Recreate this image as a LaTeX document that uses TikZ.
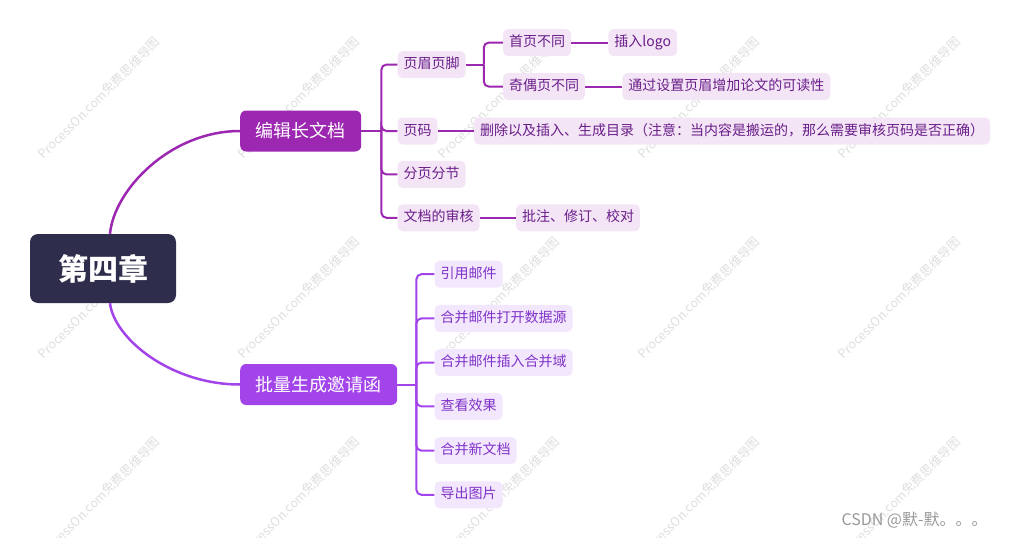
\documentclass[tikz,border=0pt]{standalone}
\usepackage{fontspec}
\setmainfont{Noto Sans CJK SC}
\usepackage{xcolor}
\usetikzlibrary{positioning}

\definecolor{rootc}{HTML}{2E2E4C}
\definecolor{editc}{HTML}{9C27B0}
\definecolor{mailc}{HTML}{A244EA}
\definecolor{editbg}{HTML}{F3E5F5}
\definecolor{mailbg}{HTML}{F2E7FD}
\definecolor{edittx}{HTML}{6A1E8A}
\definecolor{mailtx}{HTML}{8033C8}

\tikzset{
  topic/.style={rounded corners=8pt, fill=rootc, text=white, font=\fontsize{30}{30}\selectfont\bfseries, minimum width=146pt, minimum height=69pt},
  branch/.style={rounded corners=6pt, text=white, font=\fontsize{18}{18}\selectfont, inner xsep=15.5pt, inner ysep=0pt, minimum height=41pt},
  leaf/.style={rounded corners=5pt, font=\fontsize{14}{14}\selectfont, inner xsep=6pt, inner ysep=0pt, text height=11pt, text depth=3pt, minimum height=27pt},
  eleaf/.style={leaf, fill=editbg, text=edittx},
  mleaf/.style={leaf, fill=mailbg, text=mailtx},
  elink/.style={draw=editc, line width=2pt, rounded corners=5pt},
  mlink/.style={draw=mailc, line width=2pt, rounded corners=5pt},
  wmark/.style={text=black!13, font=\fontsize{12.5}{12.5}\selectfont, rotate=45}
}

\begin{document}
\begin{tikzpicture}[x=1pt, y=-1pt]
        \useasboundingbox (0,0) rectangle (1020,538);

        % watermarks
        \foreach \x in {99,299,499,699,899}
            \foreach \y in {98,298,498}
                \node[wmark] (w\x\y) at (\x,\y) {ProcessOn.com免费思维导图};
        \node[anchor=west, text=black!40, font=\fontsize{16}{16}\selectfont] (csdn) at (838,520) {CSDN @默-默。。。};

        \node[topic] (root) at (103,268.5) {第四章};
        \node[branch, fill=editc, anchor=west] (a) at (240,131) {编辑长文档};
        \node[branch, fill=mailc, anchor=west] (b) at (240,384.5) {批量生成邀请函};

        % 编辑长文档
        \node[eleaf] (a2) [right=36pt of a] {页码};
        \node[eleaf] (a1) [above=39pt of a2.north west, anchor=south west] {页眉页脚};
        \node[eleaf] (a3) [below=16pt of a2.south west, anchor=north west] {分页分节};
        \node[eleaf] (a4) [below=16pt of a3.south west, anchor=north west] {文档的审核};

        \node[eleaf] (a11) [right=37pt of a1, yshift=22pt] {首页不同};
        \node[eleaf] (a12) [right=37pt of a1, yshift=-22pt] {奇偶页不同};
        \node[eleaf] (a111) [right=37pt of a11] {插入logo};
        \node[eleaf] (a121) [right=37pt of a12] {通过设置页眉增加论文的可读性};
        \node[eleaf] (a21) [right=36pt of a2] {删除以及插入、生成目录（注意：当内容是搬运的，那么需要审核页码是否正确）};
        \node[eleaf] (a41) [right=36pt of a4] {批注、修订、校对};

        % 批量生成邀请函
        \node[mleaf] (b3) [right=37pt of b, yshift=21.9pt] {合并邮件插入合并域};
        \node[mleaf] (b4) [right=37pt of b, yshift=-21.9pt] {查看效果};
        \node[mleaf] (b2) [above=16.8pt of b3.north west, anchor=south west] {合并邮件打开数据源};
        \node[mleaf] (b1) [above=16.8pt of b2.north west, anchor=south west] {引用邮件};
        \node[mleaf] (b5) [below=16.8pt of b4.south west, anchor=north west] {合并新文档};
        \node[mleaf] (b6) [below=16.8pt of b5.south west, anchor=north west] {导出图片};

        \coordinate[right=20pt of a.east] (ja);
        \coordinate[right=18pt of a1.east] (ja1);
        \coordinate[right=19pt of b.east] (jb);

        % connectors
        \draw[elink, line width=2.5pt] ([xshift=7pt]root.north) .. controls (114,190) and (170,131) .. (a.west);
        \draw[mlink, line width=2.5pt] ([xshift=7pt]root.south) .. controls (114,338) and (170,384.5) .. (b.west);

        \draw[elink] (a.east) -- (ja);
        \foreach \c in {a1,a2,a3,a4}
            \draw[elink] (ja) |- (\c.west);
        \draw[elink] (a1.east) -- (ja1);
        \foreach \c in {a11,a12}
            \draw[elink] (ja1) |- (\c.west);
        \draw[elink] (a11) -- (a111);
        \draw[elink] (a12) -- (a121);
        \draw[elink] (a2) -- (a21);
        \draw[elink] (a4) -- (a41);

        \draw[mlink] (b.east) -- (jb);
        \foreach \c in {b1,b2,b3,b4,b5,b6}
            \draw[mlink] (jb) |- (\c.west);
\end{tikzpicture}
\end{document}
